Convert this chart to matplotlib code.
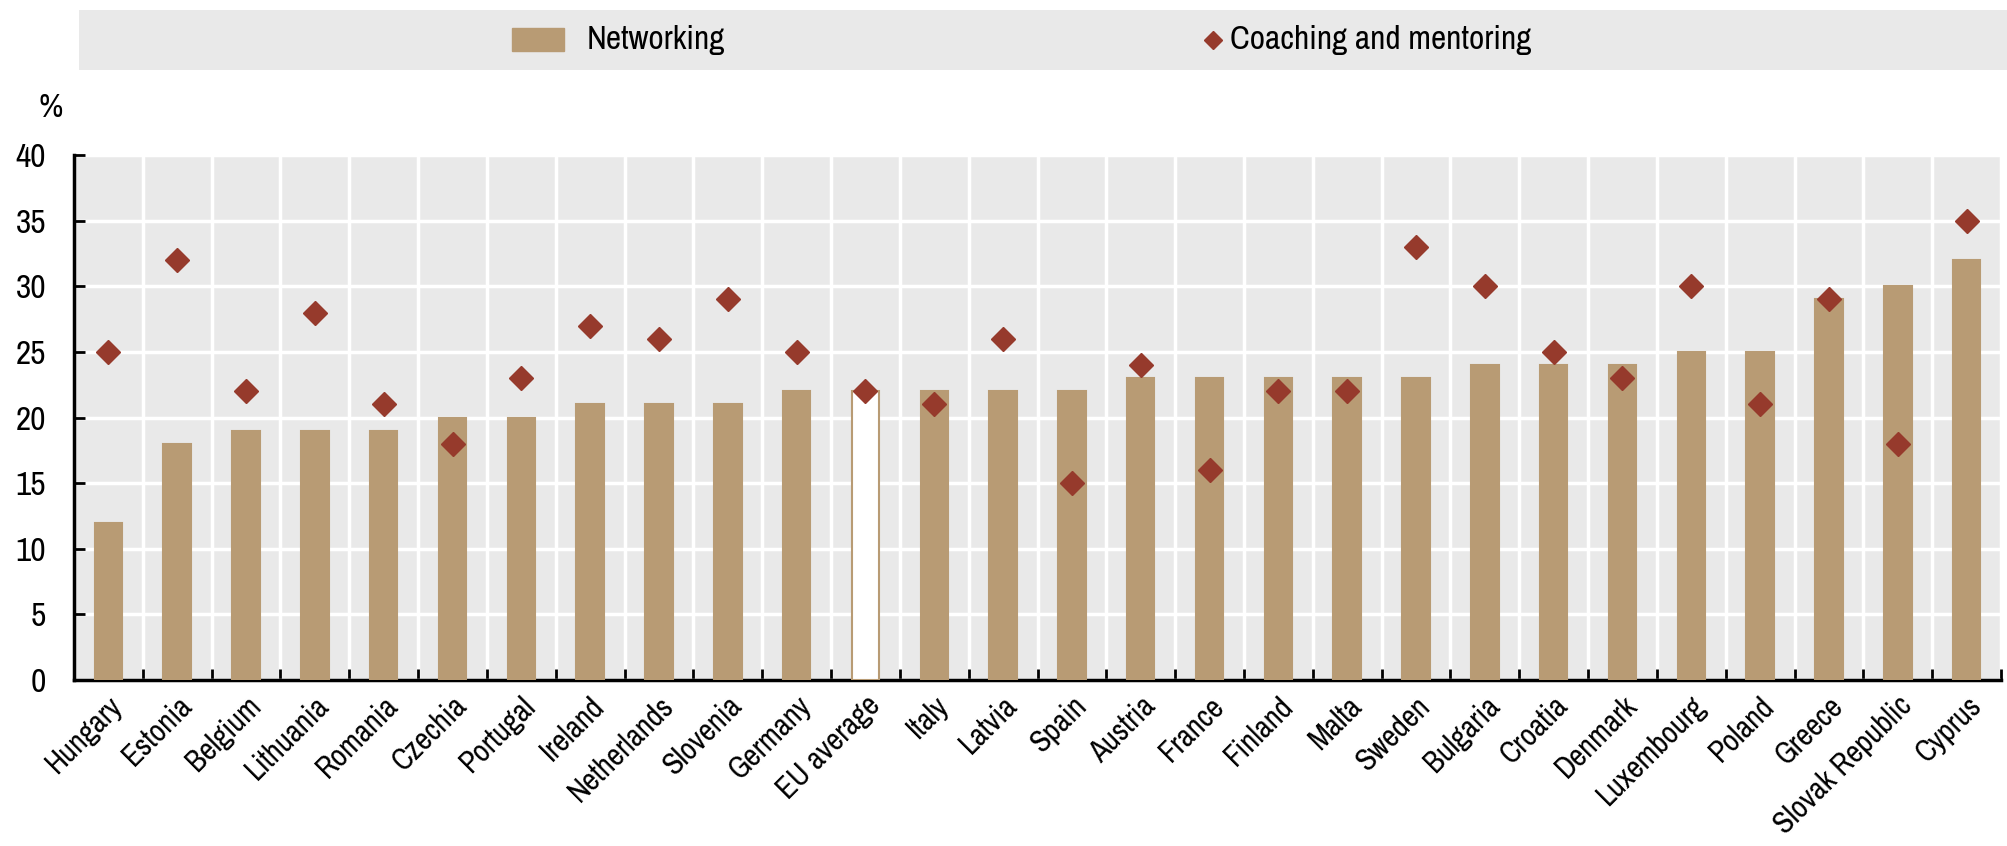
import matplotlib
matplotlib.use("Agg")
import matplotlib.pyplot as plt
from matplotlib.patches import Rectangle
import numpy as np

countries = ["Hungary", "Estonia", "Belgium", "Lithuania", "Romania", "Czechia", "Portugal",
             "Ireland", "Netherlands", "Slovenia", "Germany", "EU average", "Italy", "Latvia",
             "Spain", "Austria", "France", "Finland", "Malta", "Sweden", "Bulgaria", "Croatia",
             "Denmark", "Luxembourg", "Poland", "Greece", "Slovak Republic", "Cyprus"]
networking = [12, 18, 19, 19, 19, 20, 20, 21, 21, 21, 22, 22, 22, 22, 22, 23, 23, 23, 23, 23,
              24, 24, 24, 25, 25, 29, 30, 32]
coaching = [25, 32, 22, 28, 21, 18, 23, 27, 26, 29, 25, 22, 21, 26, 15, 24, 16, 22, 22, 33,
            30, 25, 23, 30, 21, 29, 18, 35]
yticks = [0, 5, 10, 15, 20, 25, 30, 35, 40]
highlight = "EU average"

BAR = "#B89B74"
DIA = "#963A2C"
BG = "#E9E9E9"

plt.rcParams['font.family'] = ['Archivo Narrow', 'Liberation Sans', 'DejaVu Sans']

W, H = 2007, 846
fig = plt.figure(figsize=(W / 100, H / 100), dpi=100)

# main axes
ax = fig.add_axes([74 / W, 1 - 680 / H, (2001 - 74) / W, (680 - 155) / H])
ax.set_facecolor(BG)
x = np.arange(len(countries))
fcols = ["white" if c == highlight else BAR for c in countries]
ax.bar(x, networking, width=0.4, color=fcols, edgecolor=BAR, linewidth=1.5, zorder=3)
ax.plot(x, coaching, linestyle="none", marker="D", markersize=12, color=DIA, zorder=4)

ax.set_xlim(-0.5, len(countries) - 0.5)
ax.set_ylim(0, 40)
ax.set_yticks(yticks)
ax.set_yticklabels([str(v) for v in yticks])
ax.set_xticks(x)
ax.set_xticklabels(countries, rotation=45, ha="right", va="top", rotation_mode="anchor")
ax.set_xticks(np.arange(-0.5, len(countries), 1), minor=True)
ax.tick_params(axis="x", which="major", length=0, pad=8, labelsize=22)
ax.tick_params(axis="x", which="minor", direction="in", length=8, width=2)
ax.tick_params(axis="y", direction="in", length=8, width=2, pad=20, labelsize=24)
for s in ["top", "right"]:
    ax.spines[s].set_visible(False)
for s in ["left", "bottom"]:
    ax.spines[s].set_linewidth(2.5)
ax.grid(axis="y", color="white", linewidth=2.5, zorder=0)
ax.grid(axis="x", which="minor", color="white", linewidth=2.5, zorder=0)
ax.set_axisbelow(True)

fig.text(51 / W, 1 - 108 / H, "%", fontsize=24, ha="center", va="center")

# legend box
lax = fig.add_axes([79 / W, 1 - 70 / H, (W - 79) / W, 60 / H])
lax.set_facecolor(BG)
lax.set_xlim(79, W)
lax.set_ylim(70, 10)
lax.set_xticks([])
lax.set_yticks([])
for s in lax.spines.values():
    s.set_visible(False)
lax.add_patch(Rectangle((512, 28), 52, 23, color=BAR))
lax.text(587, 40, "Networking", fontsize=24, va="center", ha="left")
lax.plot([1213], [40], marker="D", markersize=9, color=DIA, linestyle="none")
lax.text(1230, 40, "Coaching and mentoring", fontsize=24, va="center", ha="left")

fig.savefig("out.png", dpi=100)
